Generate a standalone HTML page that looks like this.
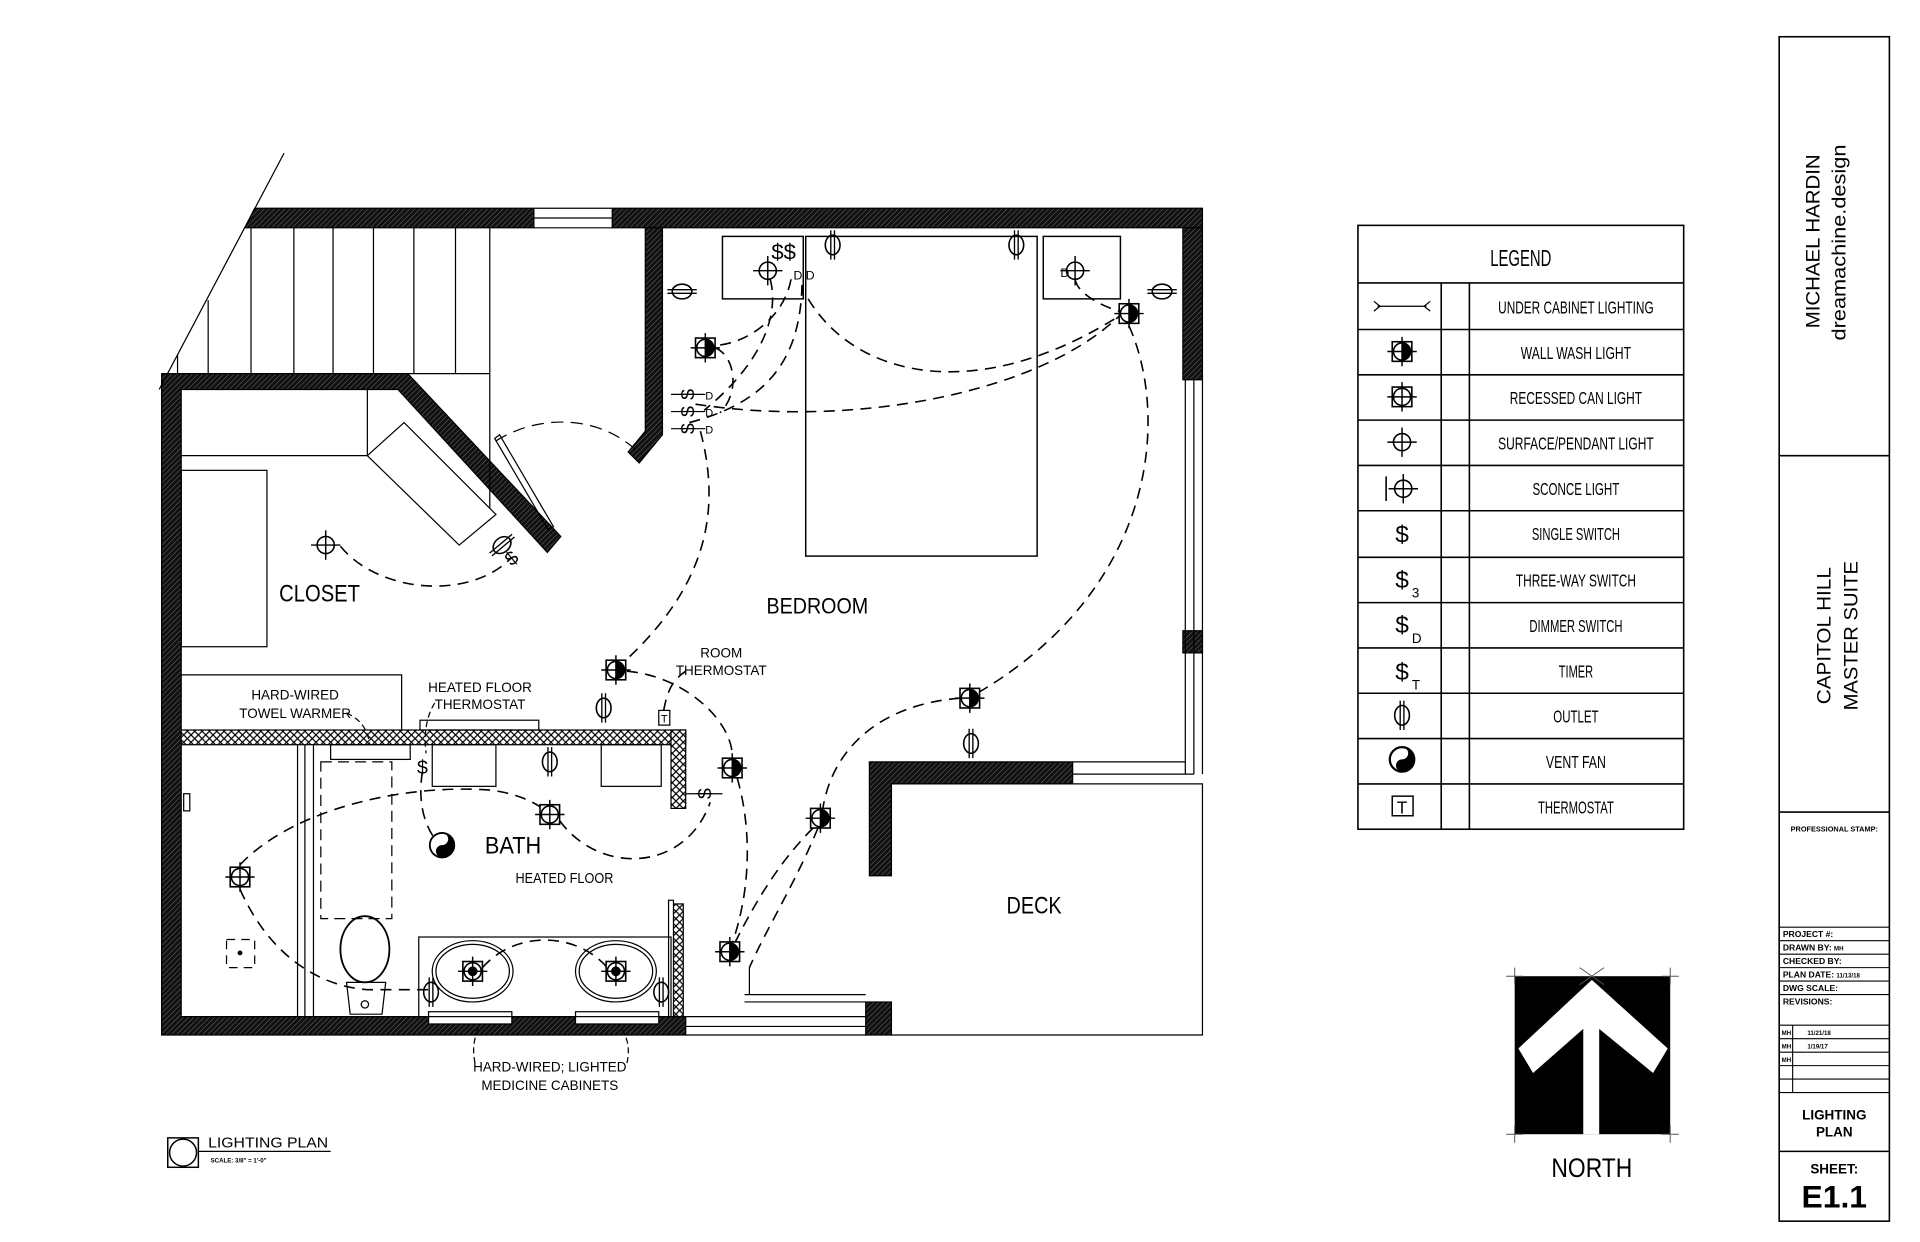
<!DOCTYPE html>
<html><head><meta charset="utf-8">
<style>
html,body{margin:0;padding:0;background:#fff;}
svg{display:block;}
text{font-family:"Liberation Sans",sans-serif;fill:#000;}
.n{font-family:"Liberation Sans Narrow","Liberation Sans",sans-serif;}
</style></head>
<body>
<svg width="1920" height="1242" viewBox="0 0 1568 1014" preserveAspectRatio="none" xmlns="http://www.w3.org/2000/svg">
<defs>
<pattern id="h" width="3" height="3" patternUnits="userSpaceOnUse" patternTransform="rotate(45)">
<rect width="3" height="3" fill="#111"/><line x1="0" y1="0" x2="0" y2="3" stroke="#888" stroke-width="0.6"/>
</pattern>
<pattern id="x" width="6" height="6" patternUnits="userSpaceOnUse">
<rect width="6" height="6" fill="#fff"/><path d="M0,0L6,6M6,0L0,6" stroke="#000" stroke-width="1"/>
</pattern>
<g id="ww"><rect x="-8" y="-8" width="16" height="16" fill="#fff" stroke="#000" stroke-width="1.3"/><circle r="7" fill="none" stroke="#000" stroke-width="1.3"/><path d="M0,-7A7,7 0 0 1 0,7Z" fill="#000"/><path d="M-12,0H12M0,-12V12" stroke="#000" stroke-width="1.2"/></g>
<g id="rc"><rect x="-8" y="-8" width="16" height="16" fill="#fff" stroke="#000" stroke-width="1.3"/><circle r="7" fill="none" stroke="#000" stroke-width="1.3"/><path d="M-12,0H12M0,-12V12" stroke="#000" stroke-width="1.2"/></g>
<g id="sf"><circle r="7" fill="none" stroke="#000" stroke-width="1.3"/><path d="M-12,0H12M0,-12V12" stroke="#000" stroke-width="1.2"/></g>
<g id="ou"><ellipse rx="6" ry="8" fill="none" stroke="#000" stroke-width="1.3"/><path d="M-1.5,-12V12M1.5,-12V12" stroke="#000" stroke-width="1.1"/></g>
<g id="ouh"><ellipse rx="8" ry="6" fill="none" stroke="#000" stroke-width="1.3"/><path d="M-12,-1.5H12M-12,1.5H12" stroke="#000" stroke-width="1.1"/></g>
</defs>

<!-- ===== WALLS ===== -->
<g stroke="#000" stroke-width="1">
<polygon points="208,170 436,170 436,186 200,186" fill="url(#h)"/>
<polygon points="500,170 982,170 982,186 500,186" fill="url(#h)"/>
<polygon points="966,186 982,186 982,310 966,310" fill="url(#h)"/>
<polygon points="966,515 982,515 982,533 966,533" fill="url(#h)"/>
<polygon points="527,186 541,186 541,355 522,378 513,369 527,352" fill="url(#h)"/>
<polygon points="132,305 333,305 458,438 447,451 325,318 148,318 148,830 560,830 560,845 132,845" fill="url(#h)"/>
<polygon points="707,818 728,818 728,845 707,845" fill="url(#h)"/>
<polygon points="710,622 876,622 876,640 728,640 728,715 710,715" fill="url(#h)"/>
</g>
<g stroke="#000" stroke-width="1" fill="none">
<path d="M436,170H500M436,178H500M436,186H500"/>
<path d="M968,310V632M975,310V632M982,310V632"/>
<path d="M876,622H968M876,632H975M728,640H982V845H728"/>
<path d="M560,830H707M560,838H707M560,845H707"/>
<path d="M608,812H707M608,818H707M612,790V812"/>
</g>
<rect x="350" y="826" width="68" height="10" fill="#fff" stroke="#000"/>
<rect x="470" y="826" width="68" height="10" fill="#fff" stroke="#000"/>

<!-- stairs -->
<g stroke="#000" stroke-width="1" fill="none">
<path d="M232,125L130,318"/>
<path d="M145,290V305M170,245V305M205,186V305M240,186V305M272,186V305M305,186V305M338,186V305M372,186V305M400,186V305"/>
<path d="M333,305H400V425"/>
<path d="M148,372H300V318"/>
<rect x="148" y="384" width="70" height="144"/>
<polygon points="300,372 330,345 405,420 375,445" fill="#fff"/>
<polygon points="404,358 408,355 452,430 448,433"/>
<path d="M405,360C440,338 490,338 522,370" stroke-dasharray="10,6"/>
</g>

<!-- bath -->
<g stroke="#000" stroke-width="1" fill="none">
<path d="M148,551H328V596"/>
<rect x="148" y="596" width="412" height="12" fill="url(#x)"/>
<rect x="548" y="596" width="12" height="64" fill="url(#x)"/>
<rect x="548" y="738" width="10" height="92" fill="url(#x)"/>
<rect x="546" y="735" width="4" height="95" fill="#fff"/>
<rect x="343" y="588" width="97" height="8"/>
<rect x="353" y="608" width="52" height="34"/>
<rect x="491" y="608" width="49" height="34"/>
<path d="M243,608V830M249,608V830M256,608V830"/>
<rect x="270" y="608" width="65" height="12"/>
<rect x="262" y="622" width="58" height="128" stroke-dasharray="9,5"/>
<ellipse cx="298" cy="775" rx="20" ry="27" stroke-width="1.5"/>
<path d="M283,802L286,828H312L315,802Z"/><circle cx="298" cy="820" r="3"/>
<rect x="342" y="765" width="206" height="65"/>
<ellipse cx="386" cy="793" rx="33" ry="25"/><ellipse cx="386" cy="793" rx="30" ry="22"/>
<ellipse cx="503" cy="793" rx="33" ry="25"/><ellipse cx="503" cy="793" rx="30" ry="22"/>
<rect x="185" y="767" width="23" height="23" stroke-dasharray="7,5"/>
<circle cx="196" cy="778" r="1.5" fill="#000"/>
<path d="M150,648h5v14h-5z" fill="#fff"/>
<rect x="538" y="580" width="9" height="12"/>
<text x="542.5" y="590" font-size="9" text-anchor="middle" stroke="none">T</text>
</g>

<g stroke="#000" stroke-width="1.2" fill="none">
<rect x="658" y="193" width="189" height="261"/>
<rect x="590" y="193" width="66" height="51"/>
<rect x="852" y="193" width="63" height="51"/>
</g>

<!-- ===== WIRES ===== -->
<g stroke="#000" stroke-width="1.3" fill="none" stroke-dasharray="9,6">
<path d="M278,446C310,485 385,490 418,455"/>
<path d="M572,352C590,420 575,480 510,540"/>
<path d="M512,548C560,552 600,590 598,620"/>
<path d="M542,580C545,565 548,556 560,548"/>
<path d="M602,635C615,680 612,730 598,770"/>
<path d="M196,706C240,660 330,640 400,645C425,648 440,657 447,663"/>
<path d="M196,726C220,780 260,805 300,808L352,808"/>
<path d="M394,790C420,760 470,760 496,790"/>
<path d="M457,670C490,715 560,712 580,655"/>
<path d="M345,630C340,660 350,680 358,688"/>
<path d="M584,284C600,290 605,320 588,337"/>
<path d="M563,345C620,330 655,300 655,228"/>
<path d="M646,228C640,260 610,280 585,282"/>
<path d="M629,228C635,250 630,290 575,335"/>
<path d="M660,244C700,310 800,330 914,258"/>
<path d="M568,330C700,350 850,320 914,258"/>
<path d="M878,228C880,240 900,250 914,254"/>
<path d="M922,266C955,340 945,480 798,566"/>
<path d="M784,570C720,575 680,610 672,660"/>
<path d="M668,676C650,720 625,760 612,790"/>
<path d="M664,676C640,700 620,730 600,770"/>
</g>

<!-- ===== SYMBOLS ===== -->
<use href="#sf" x="266" y="445"/>
<use href="#ww" x="576" y="284"/><use href="#ww" x="922" y="256"/><use href="#ww" x="503" y="547"/>
<use href="#ww" x="598" y="627"/><use href="#ww" x="792" y="570"/><use href="#ww" x="670" y="668"/><use href="#ww" x="596" y="777"/>
<use href="#rc" x="449" y="665"/><use href="#rc" x="196" y="716"/><use href="#rc" x="386" y="793"/><use href="#rc" x="503" y="793"/>
<circle cx="386" cy="793" r="4" fill="#000"/><circle cx="503" cy="793" r="4" fill="#000"/>
<use href="#sf" x="627" y="221"/><use href="#sf" x="878" y="221"/>
<use href="#ouh" x="557" y="238"/><use href="#ouh" x="949" y="238"/>
<use href="#ou" x="680" y="200"/><use href="#ou" x="830" y="200"/>
<use href="#ou" x="493" y="578"/><use href="#ou" x="449" y="622"/><use href="#ou" x="793" y="607"/>
<use href="#ou" x="352" y="810"/><use href="#ou" x="540" y="810"/>
<g transform="translate(410,445) rotate(-40)"><use href="#ouh"/></g>
<g transform="translate(361,690)"><circle r="10" fill="#fff" stroke="#000" stroke-width="1.5"/><path d="M0,-10A10,10 0 0 1 0,10A5,5 0 0 1 0,0A5,5 0 0 0 0,-10Z" fill="#000"/></g>
<g font-size="16" class="n">
<text x="640" y="212" text-anchor="middle" font-size="18">$$</text>
<text x="648" y="228" font-size="10">D D</text>
<text x="866" y="226" font-size="10">D</text>
<g transform="translate(562,322) rotate(-90)"><text x="0" y="5" text-anchor="middle">$</text></g>
<g transform="translate(562,336) rotate(-90)"><text x="0" y="5" text-anchor="middle">$</text></g>
<g transform="translate(562,350) rotate(-90)"><text x="0" y="5" text-anchor="middle">$</text></g>
<path d="M548,322H576M548,336H576M548,350H576" stroke="#000"/>
<text x="576" y="326" font-size="9">D</text><text x="576" y="340" font-size="9">D</text><text x="576" y="354" font-size="9">D</text>
<g transform="translate(418,456) rotate(-40)"><text x="0" y="5" text-anchor="middle">$</text></g>
<g transform="translate(576,648) rotate(-90)"><text x="0" y="5" text-anchor="middle">$</text></g>
<path d="M560,648H590" stroke="#000"/>
<text x="345" y="632" text-anchor="middle">$</text>
</g>

<!-- ===== LABELS ===== -->
<g class="n">
<text x="228" y="491" font-size="20" textLength="66" lengthAdjust="spacingAndGlyphs">CLOSET</text>
<text x="626" y="501" font-size="18" textLength="83" lengthAdjust="spacingAndGlyphs">BEDROOM</text>
<text x="396" y="697" font-size="20" textLength="46" lengthAdjust="spacingAndGlyphs">BATH</text>
<text x="421" y="721" font-size="12" textLength="80" lengthAdjust="spacingAndGlyphs">HEATED FLOOR</text>
<text x="822" y="746" font-size="20" textLength="45" lengthAdjust="spacingAndGlyphs">DECK</text>
<text x="589" y="537" font-size="11" text-anchor="middle">ROOM</text>
<text x="589" y="551" font-size="11" text-anchor="middle">THERMOSTAT</text>
<text x="392" y="565" font-size="11" text-anchor="middle">HEATED FLOOR</text>
<text x="392" y="579" font-size="11" text-anchor="middle">THERMOSTAT</text>
<text x="241" y="571" font-size="11" text-anchor="middle">HARD-WIRED</text>
<text x="241" y="586" font-size="11" text-anchor="middle">TOWEL WARMER</text>
<text x="449" y="875" font-size="11" text-anchor="middle">HARD-WIRED; LIGHTED</text>
<text x="449" y="890" font-size="11" text-anchor="middle">MEDICINE CABINETS</text>
</g>
<g stroke="#000" fill="none" stroke-width="1" stroke-dasharray="5,3">
<path d="M283,582C295,588 300,595 302,608"/>
<path d="M355,574C348,585 346,600 348,615"/>
<path d="M388,868C385,855 388,845 392,836"/>
<path d="M512,868C515,855 512,845 505,836"/>
</g>

<rect x="137" y="929" width="25" height="24" fill="none" stroke="#000" stroke-width="1.2"/>
<circle cx="149.5" cy="941" r="11" fill="none" stroke="#000" stroke-width="1.2"/>
<path d="M162,940H270" stroke="#000" stroke-width="1"/>
<text x="170" y="937" font-size="12" textLength="98" lengthAdjust="spacingAndGlyphs">LIGHTING PLAN</text>
<text x="172" y="949" font-size="5" font-weight="bold">SCALE:   3/8" = 1'-0"</text>

<!-- ===== LEGEND ===== -->
<g stroke="#000" stroke-width="1.3" fill="none">
<rect x="1109" y="184" width="266" height="493"/>
<path d="M1109,231H1375M1109,269H1375M1109,306H1375M1109,343H1375M1109,380H1375M1109,417H1375M1109,455H1375M1109,492H1375M1109,529H1375M1109,566H1375M1109,603H1375M1109,640H1375"/>
<path d="M1177,231V677M1200,231V677"/>
<path d="M1125,250H1165M1122,246L1127,250L1122,254M1168,246L1163,250L1168,254" stroke-width="1"/>
</g>
<use href="#ww" x="1145" y="287"/>
<use href="#rc" x="1145" y="324"/>
<use href="#sf" x="1145" y="361"/>
<use href="#sf" x="1146" y="399"/><path d="M1132,389V409" stroke="#000" stroke-width="1.3"/>
<use href="#ou" x="1145" y="584"/>
<g transform="translate(1145,620)"><circle r="10" fill="#fff" stroke="#000" stroke-width="1.8"/><path d="M0,-10A10,10 0 0 1 0,10A5,5 0 0 1 0,0A5,5 0 0 0 0,-10Z" fill="#000"/></g>
<rect x="1137" y="650" width="17" height="16" fill="none" stroke="#000" stroke-width="1.2"/>
<g class="n">
<text x="1145" y="664" font-size="14" text-anchor="middle">T</text>
<text x="1145" y="443" font-size="20" text-anchor="middle">$</text>
<text x="1145" y="480" font-size="20" text-anchor="middle">$</text><text x="1153" y="488" font-size="11">3</text>
<text x="1145" y="517" font-size="20" text-anchor="middle">$</text><text x="1153" y="525" font-size="11">D</text>
<text x="1145" y="555" font-size="20" text-anchor="middle">$</text><text x="1153" y="563" font-size="11">T</text>
<text x="1242" y="217" font-size="19" text-anchor="middle" textLength="50" lengthAdjust="spacingAndGlyphs">LEGEND</text>
<g font-size="14" text-anchor="middle">
<text x="1287" y="256" textLength="127" lengthAdjust="spacingAndGlyphs">UNDER CABINET LIGHTING</text>
<text x="1287" y="293" textLength="90" lengthAdjust="spacingAndGlyphs">WALL WASH LIGHT</text>
<text x="1287" y="330" textLength="108" lengthAdjust="spacingAndGlyphs">RECESSED CAN LIGHT</text>
<text x="1287" y="367" textLength="127" lengthAdjust="spacingAndGlyphs">SURFACE/PENDANT LIGHT</text>
<text x="1287" y="404" textLength="71" lengthAdjust="spacingAndGlyphs">SCONCE LIGHT</text>
<text x="1287" y="441" textLength="72" lengthAdjust="spacingAndGlyphs">SINGLE SWITCH</text>
<text x="1287" y="479" textLength="98" lengthAdjust="spacingAndGlyphs">THREE-WAY SWITCH</text>
<text x="1287" y="516" textLength="76" lengthAdjust="spacingAndGlyphs">DIMMER SWITCH</text>
<text x="1287" y="553" textLength="28" lengthAdjust="spacingAndGlyphs">TIMER</text>
<text x="1287" y="590" textLength="37" lengthAdjust="spacingAndGlyphs">OUTLET</text>
<text x="1287" y="627" textLength="49" lengthAdjust="spacingAndGlyphs">VENT FAN</text>
<text x="1287" y="664" textLength="62" lengthAdjust="spacingAndGlyphs">THERMOSTAT</text>
</g>
</g>

<!-- ===== NORTH ===== -->
<rect x="1237" y="797" width="127" height="129" fill="#000"/>
<path d="M1240,856L1300,800L1362,856L1350,876L1306,840V926H1293V840L1252,876Z" fill="#fff"/>
<g stroke="#555" stroke-width="0.8">
<path d="M1230,797H1244M1237,790V804M1357,797H1371M1364,790V804M1230,926H1244M1237,919V933M1357,926H1371M1364,919V933M1290,790L1310,804M1310,790L1290,804"/>
</g>
<text x="1300" y="961" font-size="22" text-anchor="middle" textLength="66" lengthAdjust="spacingAndGlyphs">NORTH</text>

<!-- ===== TITLE BLOCK ===== -->
<g stroke="#000" stroke-width="1.3" fill="none">
<rect x="1453" y="30" width="90" height="967"/>
<path d="M1453,372H1543M1453,663H1543"/>
<path d="M1453,757H1543M1453,768H1543M1453,779H1543M1453,790H1543M1453,801H1543M1453,812H1543" stroke-width="0.9"/>
<path d="M1453,837H1543M1453,848H1543M1453,859H1543M1453,870H1543M1453,881H1543M1453,892H1543" stroke-width="0.9"/>
<path d="M1464,837V892" stroke-width="0.9"/>
<path d="M1453,940H1543"/>
</g>
<g font-size="16" class="n">
<text transform="translate(1486,268) rotate(-90)" textLength="142" lengthAdjust="spacingAndGlyphs">MICHAEL HARDIN</text>
<text transform="translate(1507,278) rotate(-90)" textLength="160" lengthAdjust="spacingAndGlyphs">dreamachine.design</text>
<text transform="translate(1495,575) rotate(-90)" textLength="112" lengthAdjust="spacingAndGlyphs">CAPITOL HILL</text>
<text transform="translate(1517,580) rotate(-90)" textLength="122" lengthAdjust="spacingAndGlyphs">MASTER SUITE</text>
</g>
<g font-size="7" font-weight="bold">
<text x="1498" y="679" text-anchor="middle" font-size="6">PROFESSIONAL STAMP:</text>
<text x="1456" y="765">PROJECT #:</text>
<text x="1456" y="776">DRAWN BY:  <tspan font-size="5">MH</tspan></text>
<text x="1456" y="787">CHECKED BY:</text>
<text x="1456" y="798">PLAN DATE: <tspan font-size="5">11/13/18</tspan></text>
<text x="1456" y="809">DWG SCALE:</text>
<text x="1456" y="820">REVISIONS:</text>
<text x="1455" y="845" font-size="5">MH</text><text x="1476" y="845" font-size="5">11/21/18</text>
<text x="1455" y="856" font-size="5">MH</text><text x="1476" y="856" font-size="5">1/19/17</text>
<text x="1455" y="867" font-size="5">MH</text>
<text x="1498" y="914" text-anchor="middle" font-size="11">LIGHTING</text>
<text x="1498" y="928" text-anchor="middle" font-size="11">PLAN</text>
<text x="1498" y="958" text-anchor="middle" font-size="11">SHEET:</text>
<text x="1498" y="986" text-anchor="middle" font-size="26">E1.1</text>
</g>
</svg>
</body></html>
